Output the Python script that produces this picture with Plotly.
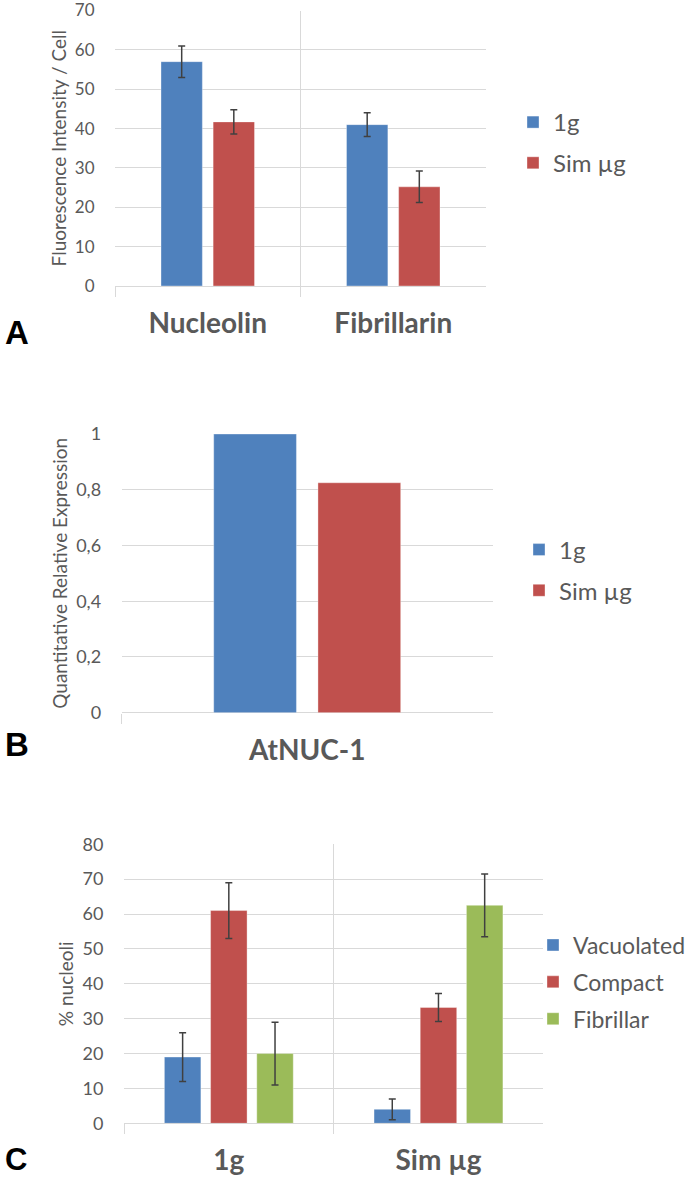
import plotly.graph_objects as go

# panel A - fluorescence intensity
a_categories = ["Nucleolin", "Fibrillarin"]
a_1g = [57, 41]
a_1g_err = [4, 3]
a_sim = [41.7, 25.2]
a_sim_err = [3.1, 4]

# panel B - relative expression
b_categories = ["AtNUC-1"]
b_1g = [1.0]
b_sim = [0.825]

# panel C - nucleoli types
c_categories = ["1g", "Sim µg"]
c_vacuolated = [19, 4]
c_vacuolated_err = [7, 3]
c_compact = [61, 33.2]
c_compact_err = [8, 4]
c_fibrillar = [20, 62.5]
c_fibrillar_err = [9, 9]

W, H = 685, 1179
BLUE, RED, GREEN = "#4F81BD", "#C0504D", "#9BBB59"
GRID = "#d9d9d9"
TXT = "#595959"
FONT = "Lato"
BAR_W = 0.223
BAR_GAP = 0.058


def px_x(v):
    return v / W


def px_y(v):
    return 1 - v / H


def err(vals):
    return dict(type="data", array=vals, visible=True, color="#404040", thickness=1.5, width=3.5)


fig = go.Figure()

# A
fig.add_trace(go.Bar(x=a_categories, y=a_1g, name="1g", marker_color=BLUE, error_y=err(a_1g_err),
                     width=BAR_W, offset=-BAR_W - BAR_GAP / 2, xaxis="x", yaxis="y",
                     legend="legend", legendgroup="a1"))
fig.add_trace(go.Bar(x=a_categories, y=a_sim, name="Sim µg", marker_color=RED, error_y=err(a_sim_err),
                     width=BAR_W, offset=BAR_GAP / 2, xaxis="x", yaxis="y",
                     legend="legend", legendgroup="a2"))

# B
fig.add_trace(go.Bar(x=b_categories, y=b_1g, name="1g", marker_color=BLUE,
                     width=BAR_W, offset=-BAR_W - BAR_GAP / 2, xaxis="x2", yaxis="y2",
                     legend="legend2", legendgroup="b1"))
fig.add_trace(go.Bar(x=b_categories, y=b_sim, name="Sim µg", marker_color=RED,
                     width=BAR_W, offset=BAR_GAP / 2, xaxis="x2", yaxis="y2",
                     legend="legend2", legendgroup="b2"))

# C
fig.add_trace(go.Bar(x=c_categories, y=c_vacuolated, name="Vacuolated", marker_color=BLUE,
                     error_y=err(c_vacuolated_err), xaxis="x3", yaxis="y3",
                     legend="legend3", legendgroup="c1"))
fig.add_trace(go.Bar(x=c_categories, y=c_compact, name="Compact", marker_color=RED,
                     error_y=err(c_compact_err), xaxis="x3", yaxis="y3",
                     legend="legend3", legendgroup="c2"))
fig.add_trace(go.Bar(x=c_categories, y=c_fibrillar, name="Fibrillar", marker_color=GREEN,
                     error_y=err(c_fibrillar_err), xaxis="x3", yaxis="y3",
                     legend="legend3", legendgroup="c3"))

fig.update_traces(marker_line=dict(color="rgba(255,255,255,0.35)", width=1))


def xax(x0, x1, y_anchor):
    return dict(domain=[px_x(x0), px_x(x1)], anchor=y_anchor, type="category",
                tickson="boundaries", showgrid=True, gridcolor=GRID, gridwidth=1,
                ticks="outside", ticklen=10, tickcolor=GRID, showline=False,
                tickfont=dict(family=FONT, size=28, color=TXT, weight="bold"),
                ticklabelstandoff=18, ticklabeloverflow="allow", automargin=False, fixedrange=True)


def yax(top, bottom, x_anchor, rng, dtick, title):
    return dict(domain=[px_y(bottom), px_y(top)], anchor=x_anchor, range=rng, dtick=dtick,
                showgrid=True, gridcolor=GRID, gridwidth=1, zeroline=True, zerolinecolor=GRID,
                zerolinewidth=1, ticks="outside", ticklen=16, tickcolor="rgba(0,0,0,0)",
                tickfont=dict(family=FONT, size=18, color=TXT), automargin=False,
                ticklabeloverflow="allow", fixedrange=True,
                title=dict(text=title, font=dict(family=FONT, size=19, color=TXT), standoff=3))


legend_style = dict(font=dict(family=FONT, size=24, color=TXT), xanchor="left", yanchor="middle",
                    itemwidth=30, tracegroupgap=6.5, bgcolor="rgba(0,0,0,0)")

fig.update_layout(
    width=W, height=H,
    margin=dict(l=0, r=0, t=0, b=0, autoexpand=False),
    paper_bgcolor="white", plot_bgcolor="white",
    separators=",.",
    barmode="group", bargap=0.339, bargroupgap=0.21,
    xaxis=xax(115, 486, "y"),
    yaxis=yax(10.5, 286, "x", [0, 70], 10, "Fluorescence Intensity / Cell"),
    xaxis2=xax(121.7, 492.7, "y2"),
    yaxis2=yax(434, 712.7, "x2", [0, 1], 0.2, "Quantitative Relative Expression"),
    xaxis3=xax(124, 543.3, "y3"),
    yaxis3=yax(844.3, 1123.3, "x3", [0, 80], 10, "% nucleoli"),
    legend=dict(legend_style, x=px_x(513), y=px_y(142.5)),
    legend2=dict(legend_style, x=px_x(519), y=px_y(570)),
    legend3=dict(legend_style, x=px_x(533), y=px_y(982), tracegroupgap=4,
                 font=dict(family=FONT, size=23, color=TXT)),
    showlegend=True,
)
fig.update_yaxes(tickfont_size=17, selector=dict(anchor="x"))

for letter, cy, size in [("A", 332, 33), ("B", 744, 33), ("C", 1159, 31)]:
    fig.add_annotation(text=letter, xref="paper", yref="paper", x=px_x(3), y=px_y(cy),
                       xanchor="left", yanchor="middle", showarrow=False,
                       font=dict(family="Liberation Sans", size=size, color="black", weight="bold"))

fig.write_html("out.html", config={"displayModeBar": False},
               post_script="document.body.style.margin='0';")
